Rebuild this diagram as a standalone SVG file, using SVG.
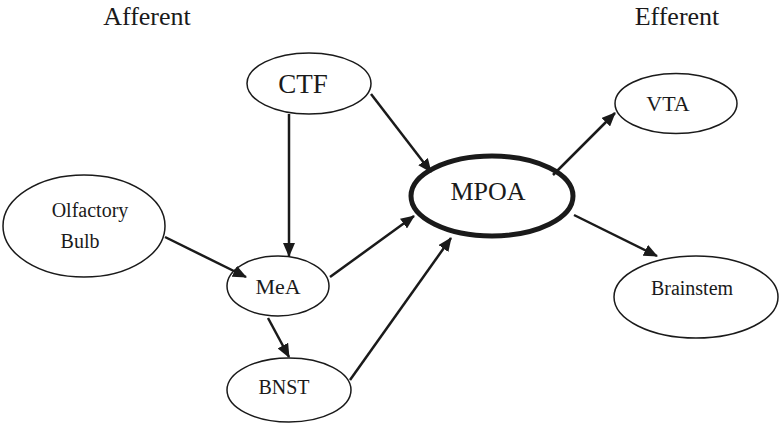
<svg xmlns="http://www.w3.org/2000/svg" width="783" height="428" viewBox="0 0 783 428">
<style>
  .node { fill: #fff; stroke: #1a1a1a; stroke-width: 1.5; }
  .thick { stroke-width: 5; }
  text { font-family: "Liberation Serif", "Times New Roman", serif; fill: #1a1a1a; text-anchor: middle; }
  .edge { stroke: #1a1a1a; stroke-width: 2.5; fill: none; marker-end: url(#arrow); }
</style>
<defs>
  <marker id="arrow" viewBox="0 0 14 12" refX="13" refY="6" markerWidth="14" markerHeight="12" markerUnits="userSpaceOnUse" orient="auto">
    <path d="M0,0 L14,6 L0,12 Z" fill="#1a1a1a"/>
  </marker>
</defs>
<rect width="783" height="428" fill="#fff"/>
<text x="147" y="25" font-size="26">Afferent</text>
<text x="677" y="25" font-size="26">Efferent</text>
<g id="olfactory">
  <ellipse class="node" cx="84" cy="226" rx="81" ry="51"/>
  <text x="90" y="217" font-size="20">Olfactory</text>
  <text x="80" y="248" font-size="20">Bulb</text>
</g>
<g id="ctf">
  <ellipse class="node" cx="309" cy="83.5" rx="62" ry="30.5"/>
  <text x="303" y="93" font-size="27">CTF</text>
</g>
<g id="mea">
  <ellipse class="node" cx="278" cy="286" rx="51" ry="30"/>
  <text x="278" y="294" font-size="22">MeA</text>
</g>
<g id="bnst">
  <ellipse class="node" cx="289" cy="390" rx="62" ry="32"/>
  <text x="284" y="394" font-size="20">BNST</text>
</g>
<g id="mpoa">
  <ellipse class="node thick" cx="492" cy="196" rx="81" ry="40"/>
  <text x="488" y="200" font-size="26">MPOA</text>
</g>
<g id="vta">
  <ellipse class="node" cx="676" cy="103.5" rx="61" ry="30"/>
  <text x="668" y="111" font-size="22">VTA</text>
</g>
<g id="brainstem">
  <ellipse class="node" cx="696" cy="297" rx="82" ry="41"/>
  <text x="692" y="295" font-size="20">Brainstem</text>
</g>
<g id="edges">
  <line class="edge" x1="289" y1="114" x2="289" y2="256"/>
  <line class="edge" x1="371" y1="94" x2="431" y2="172"/>
  <line class="edge" x1="165" y1="237" x2="246" y2="277"/>
  <line class="edge" x1="330" y1="277" x2="414" y2="216"/>
  <line class="edge" x1="350" y1="380" x2="451" y2="238"/>
  <line class="edge" x1="268" y1="318" x2="289" y2="357"/>
  <line class="edge" x1="553" y1="175" x2="615" y2="113"/>
  <line class="edge" x1="574" y1="215" x2="657" y2="256"/>
</g>
</svg>
